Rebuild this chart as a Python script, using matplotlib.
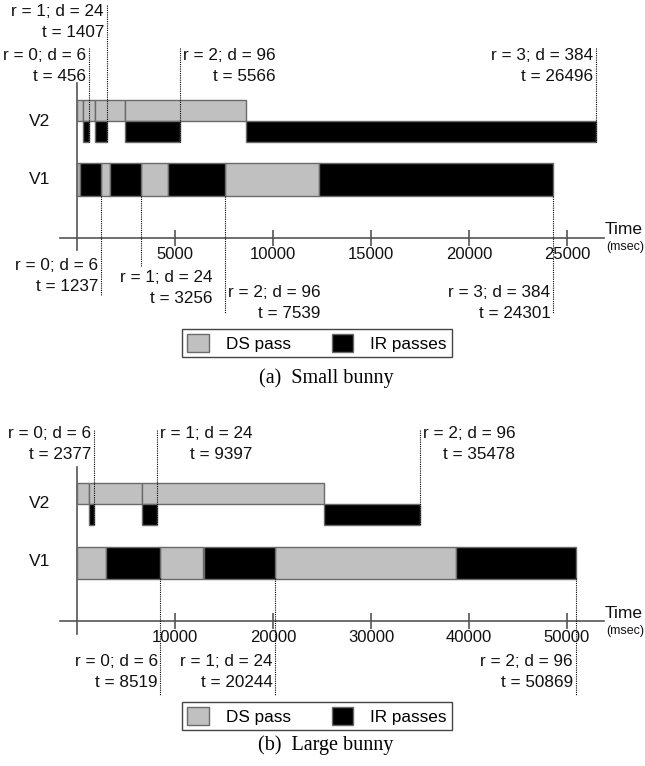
import matplotlib
matplotlib.use('Agg')
import matplotlib.pyplot as plt
from matplotlib.patches import Patch
from matplotlib.transforms import blended_transform_factory as btf

# ---------------- data ----------------
# Small bunny (times in msec)
small_v1_ds = [(0, 150), (1237, 1660), (3256, 4650), (7539, 12350)]
small_v1_ir = [(150, 1237), (1660, 3256), (4650, 7539), (12350, 24301)]
small_v2_ds = [(0, 321), (321, 930), (930, 2450), (2450, 8610)]
small_v2_ir = [(321, 590), (930, 1515), (2450, 5255), (8610, 26496)]
small_rounds = [0, 1, 2, 3]
small_depths = [6, 24, 96, 384]
small_t_v2 = [456, 1407, 5566, 26496]
small_t_v1 = [1237, 3256, 7539, 24301]
small_ticks = [5000, 10000, 15000, 20000, 25000]

# Large bunny (times in msec)
large_v1_ds = [(0, 2928), (8519, 12900), (20244, 38640)]
large_v1_ir = [(2928, 8519), (12960, 20244), (38640, 50869)]
large_v2_ds = [(0, 1255), (1255, 6600), (6600, 25230)]
large_v2_ir = [(1255, 1735), (6600, 8195), (25230, 35000)]
large_rounds = [0, 1, 2]
large_depths = [6, 24, 96]
large_t_v2 = [2377, 9397, 35478]
large_t_v1 = [8519, 20244, 50869]
large_ticks = [10000, 20000, 30000, 40000, 50000]

legend_labels = ["DS pass", "IR passes"]
captions = ["(a)  Small bunny", "(b)  Large bunny"]

# ---------------- style ----------------
W, H = 645, 766
SANS = ['Liberation Sans', 'DejaVu Sans']
SERIF = ['Liberation Serif', 'DejaVu Serif']
GRAY = '#c0c0c0'
EDGE = '#6a6a6a'
AXC = '#555555'
TXT = '#111111'
FS = 12.3

fig = plt.figure(figsize=(W / 100, H / 100), dpi=100)


def make_axes(y_top, y_bot, px_per_unit, x0=77):
    ax = fig.add_axes([0, 1 - y_bot / H, 1, (y_bot - y_top) / H])
    ax.set_xlim(-x0 / px_per_unit, (W - x0) / px_per_unit)
    ax.set_ylim(y_bot, y_top)
    ax.patch.set_alpha(0)
    for s in ['top', 'right']:
        ax.spines[s].set_visible(False)
    return ax


def bars(ax, segs, yc, h, color):
    for a, b in segs:
        ax.barh(yc, b - a, left=a, height=h, color=color, edgecolor=EDGE,
                linewidth=1.0, zorder=3)


def event(ax, t, y0, y1, text, ty, side):
    ax.vlines(t, y0, y1, colors='k', linestyles=(0, (1, 1)), linewidth=0.8,
              zorder=4)
    dx = -2 if side == 'left' else 2
    ax.annotate(text, xy=(t, ty), xytext=(dx, 0), textcoords='offset points',
                ha='right' if side == 'left' else 'left', va='center',
                multialignment='right', fontsize=FS, family=SANS,
                linespacing=1.55, color=TXT)


def axis_setup(ax, axis_y, ybounds, xbounds, ticks, time_y, msec_y, v2_y, v1_y):
    ax.spines['bottom'].set_position(('data', axis_y))
    ax.spines['bottom'].set_bounds(*xbounds)
    ax.spines['left'].set_position(('data', 0))
    ax.spines['left'].set_bounds(*ybounds)
    for s in ['bottom', 'left']:
        ax.spines[s].set_color(AXC)
        ax.spines[s].set_linewidth(1.2)
    ax.set_yticks([])
    ax.set_xticks(ticks)
    ax.set_xticklabels([str(t) for t in ticks], family=SANS, fontsize=12,
                       color=TXT)
    ax.tick_params(axis='x', direction='inout', length=11, width=1.2,
                   color=AXC, pad=1)
    tr = btf(ax.transAxes, ax.transData)
    ax.text(605 / W, time_y, "Time", transform=tr, fontsize=12.5, family=SANS,
            va='center', ha='left', color=TXT)
    ax.text(606 / W, msec_y, "(msec)", transform=tr, fontsize=9, family=SANS,
            va='center', ha='left', color=TXT)
    ax.text(40 / W, v2_y, "V2", transform=tr, fontsize=12.5, family=SANS,
            va='center', ha='center', color=TXT)
    ax.text(40 / W, v1_y, "V1", transform=tr, fontsize=12.5, family=SANS,
            va='center', ha='center', color=TXT)
    return tr


# ---------------- (a) Small bunny ----------------
s1 = 0.0196
ax1 = make_axes(0, 400, s1)
bars(ax1, small_v2_ds, 110.5, 21, GRAY)
bars(ax1, small_v2_ir, 131.5, 21, 'black')
bars(ax1, small_v1_ds, 179.5, 33, GRAY)
bars(ax1, small_v1_ir, 179.5, 33, 'black')
tr1 = axis_setup(ax1, 238, (83, 250), (-850, 26900), small_ticks, 230, 247,
                 121, 180)

v2_ends = [b for a, b in small_v2_ir]
v1_ends = [b for a, b in small_v1_ir]
top_cfg = [(48, 66, 'left'), (5, 22, 'left'), (48, 66, 'right'), (48, 66, 'left')]
for i, (ytop, ty, side) in enumerate(top_cfg):
    txt = f"r = {small_rounds[i]}; d = {small_depths[i]}\nt = {small_t_v2[i]}"
    event(ax1, v2_ends[i], ytop, 142, txt, ty, side)
bot_cfg = [(296, 276, 'left'), (266, 288, 'shift'), (313, 303, 'right'),
           (313, 303, 'left')]
for i, (ybot, ty, side) in enumerate(bot_cfg):
    txt = f"r = {small_rounds[i]}; d = {small_depths[i]}\nt = {small_t_v1[i]}"
    if side == 'shift':
        ax1.vlines(v1_ends[i], 196, ybot, colors='k', linestyles=(0, (1, 1)),
                   linewidth=0.8, zorder=4)
        ax1.text(212 / W, ty, txt, transform=tr1, ha='right', va='center',
                 multialignment='right', fontsize=FS, family=SANS,
                 linespacing=1.55, color=TXT)
    else:
        event(ax1, v1_ends[i], 196, ybot, txt, ty, side)

# ---------------- (b) Large bunny ----------------
s2 = 0.0098
ax2 = make_axes(400, 766, s2)
bars(ax2, large_v2_ds, 493.5, 21, GRAY)
bars(ax2, large_v2_ir, 514.5, 21, 'black')
bars(ax2, large_v1_ds, 562.5, 32, GRAY)
bars(ax2, large_v1_ir, 562.5, 32, 'black')
tr2 = axis_setup(ax2, 621, (467, 634), (-1700, 53800), large_ticks, 613, 631,
                 504, 562)

lv2_ends = [b for a, b in large_v2_ir]
lv1_ends = [b for a, b in large_v1_ir]
for i, side in enumerate(['left', 'right', 'right']):
    txt = f"r = {large_rounds[i]}; d = {large_depths[i]}\nt = {large_t_v2[i]}"
    event(ax2, lv2_ends[i], 430, 525, txt, 444, side)
for i in range(3):
    txt = f"r = {large_rounds[i]}; d = {large_depths[i]}\nt = {large_t_v1[i]}"
    event(ax2, lv1_ends[i], 578, 695, txt, 672, 'left')

# ---------------- legends & captions ----------------
for yc in [343, 716]:
    handles = [Patch(facecolor=GRAY, edgecolor=EDGE, linewidth=1.0),
               Patch(facecolor='black', edgecolor=EDGE, linewidth=1.0)]
    leg = fig.legend(handles, legend_labels, ncol=2, loc='center',
                     bbox_to_anchor=(317 / W, 1 - yc / H), frameon=True,
                     fancybox=False, edgecolor='#444444', framealpha=1,
                     prop={'family': SANS, 'size': 12.3}, handlelength=1.25,
                     handleheight=1.25, columnspacing=2.4, handletextpad=1.0,
                     borderpad=0.3, borderaxespad=0)
    leg.get_frame().set_linewidth(1.0)
fig.text(326 / W, 1 - 378 / H, captions[0], ha='center', va='center',
         family=SERIF, fontsize=14.5)
fig.text(326 / W, 1 - 745 / H, captions[1], ha='center', va='center',
         family=SERIF, fontsize=14.5)

fig.savefig('out.png', dpi=100)
